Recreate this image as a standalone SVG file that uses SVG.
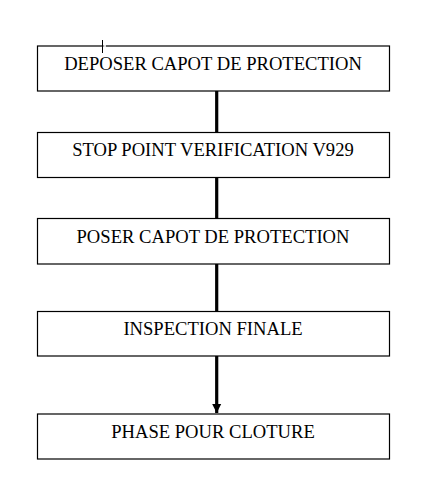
<svg xmlns="http://www.w3.org/2000/svg" width="444" height="495" viewBox="0 0 444 495">
<style>
.box{fill:#fff;stroke:#000;stroke-width:1.2}
.lbl{font-family:"Liberation Serif","Times New Roman",serif;font-size:18.6px;fill:#000;text-anchor:middle}
.conn{stroke:#000;stroke-width:3.2;fill:none}
</style>
<defs>
<marker id="ah" markerUnits="userSpaceOnUse" markerWidth="10" markerHeight="10" viewBox="0 0 10 10" refX="9" refY="5" orient="auto">
<path d="M0,0.5 L9,5 L0,9.5 Z" fill="#000"/>
</marker>
</defs>
<rect width="444" height="495" fill="#fff"/>
<g id="connectors">
<line class="conn" x1="216.7" y1="91" x2="216.7" y2="132"/>
<line class="conn" x1="216.7" y1="177" x2="216.7" y2="218.5"/>
<line class="conn" x1="216.7" y1="264" x2="216.7" y2="311.5"/>
<line class="conn" x1="216.7" y1="356" x2="216.7" y2="413" marker-end="url(#ah)"/>
</g>
<g id="n1">
<rect class="box" x="37.5" y="46" width="352" height="45"/>
<text class="lbl" x="213" y="69.5">DEPOSER CAPOT DE PROTECTION</text>
<line x1="103.5" y1="46" x2="106" y2="46" stroke="#fff" stroke-width="1.6"/>
<line x1="102.5" y1="40" x2="102.5" y2="53" stroke="#000" stroke-width="1"/>
</g>
<g id="n2">
<rect class="box" x="37.5" y="132.5" width="352" height="45"/>
<text class="lbl" x="213" y="156">STOP POINT VERIFICATION V929</text>
</g>
<g id="n3">
<rect class="box" x="37.5" y="218.5" width="352" height="45.5"/>
<text class="lbl" x="213" y="242.7">POSER CAPOT DE PROTECTION</text>
</g>
<g id="n4">
<rect class="box" x="37.5" y="311.5" width="352" height="44.5"/>
<text class="lbl" x="213" y="334.7">INSPECTION FINALE</text>
</g>
<g id="n5">
<rect class="box" x="37.5" y="414" width="352" height="45"/>
<text class="lbl" x="213" y="437.7">PHASE POUR CLOTURE</text>
</g>
</svg>
